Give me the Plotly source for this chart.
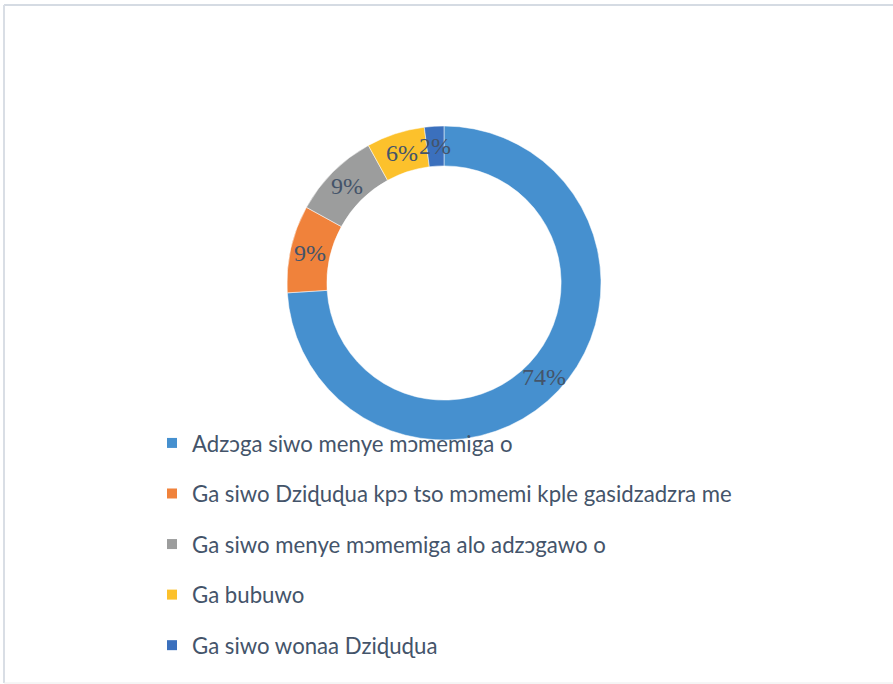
import math
import plotly.graph_objects as go

labels = [
    "Adzɔga siwo menye mɔmemiga o",
    "Ga siwo Dziɖuɖua kpɔ tso mɔmemi kple gasidzadzra me",
    "Ga siwo menye mɔmemiga alo adzɔgawo o",
    "Ga bubuwo",
    "Ga siwo wonaa Dziɖuɖua",
]
values = [74, 9, 9, 6, 2]
colors = ["#4690cf", "#f0823b", "#9c9d9d", "#fcc12c", "#3b70bd"]

W, H = 893, 684
CX, CY = 444, 283          # donut centre (px from top-left)
R_OUT = 157
HOLE = 0.746
R_MID = R_OUT * (1 + HOLE) / 2

fig = go.Figure()

fig.add_trace(go.Pie(
    labels=labels,
    values=values,
    hole=HOLE,
    sort=False,
    direction="clockwise",
    rotation=0,
    marker=dict(colors=colors, line=dict(color="white", width=0.5)),
    textinfo="none",
    showlegend=False,
    hoverinfo="label+percent",
    domain=dict(x=[(CX - R_OUT) / W, (CX + R_OUT) / W],
                y=[(H - CY - R_OUT) / H, (H - CY + R_OUT) / H]),
))

# percentage labels at the slice centroids (derived from the values)
total = sum(values)
cum = 0
annotations = []
for v in values:
    mid = (cum + v / 2) / total * 2 * math.pi
    cum += v
    px = CX + R_MID * math.sin(mid)
    py = CY - R_MID * math.cos(mid)
    annotations.append(dict(
        x=px / W, y=1 - py / H, xref="paper", yref="paper",
        text=f"{round(v / total * 100)}%", showarrow=False,
        xanchor="center", yanchor="middle",
        font=dict(family="Liberation Serif, Times New Roman, serif", size=24, color="#44546a"),
    ))

# legend entries (one per category) so spacing can be controlled
for lab, col in zip(labels, colors):
    fig.add_trace(go.Scatter(
        x=[None], y=[None], mode="markers",
        marker=dict(symbol="square", size=10, color=col),
        name=lab, legendgroup=lab, showlegend=True, hoverinfo="skip",
    ))

fig.update_layout(
    width=W, height=H,
    margin=dict(l=0, r=0, t=0, b=0),
    paper_bgcolor="white",
    plot_bgcolor="white",
    xaxis=dict(visible=False),
    yaxis=dict(visible=False),
    annotations=annotations,
    legend=dict(
        x=152 / W, y=1 - 422 / H, xanchor="left", yanchor="top",
        orientation="v",
        font=dict(family="Lato, Noto Sans, sans-serif", size=22.2, color="#44546a"),
        tracegroupgap=18.7,
        bgcolor="rgba(0,0,0,0)",
        itemclick=False, itemdoubleclick=False,
    ),
    shapes=[
        dict(type="line", xref="paper", yref="paper",
             x0=4 / W, x1=1, y0=1 - 5 / H, y1=1 - 5 / H,
             line=dict(color="#d5dbe3", width=2), layer="below"),
        dict(type="line", xref="paper", yref="paper",
             x0=4 / W, x1=4 / W, y0=1 - 683 / H, y1=1 - 5 / H,
             line=dict(color="#d9dee5", width=2), layer="below"),
        dict(type="line", xref="paper", yref="paper",
             x0=4 / W, x1=1, y0=1 - 683 / H, y1=1 - 683 / H,
             line=dict(color="#ececec", width=1), layer="below"),
    ],
)

fig.write_html("out.html", config={"displayModeBar": False},
               post_script="document.body.style.margin='0';")
